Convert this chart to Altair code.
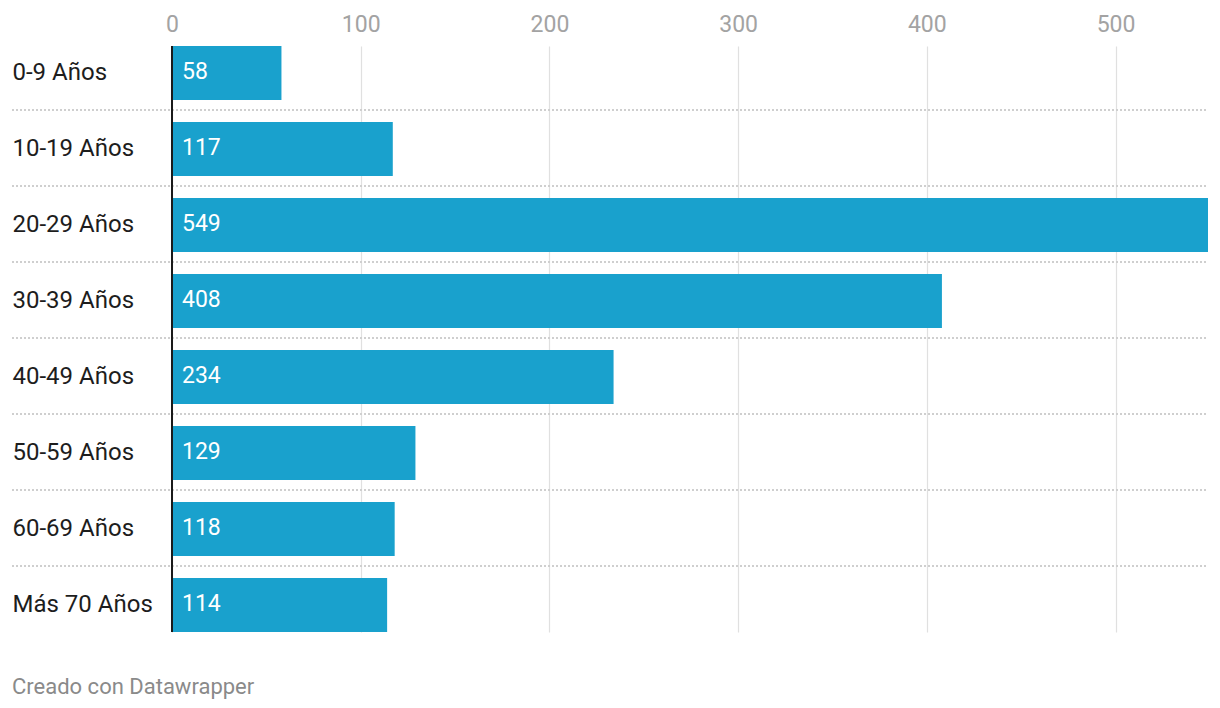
import altair as alt
import pandas as pd

categories = ["0-9 Años", "10-19 Años", "20-29 Años", "30-39 Años",
              "40-49 Años", "50-59 Años", "60-69 Años", "Más 70 Años"]
values = [58, 117, 549, 408, 234, 129, 118, 114]
x_ticks = [0, 100, 200, 300, 400, 500]
x_max = 549
footer = "Creado con Datawrapper"

df = pd.DataFrame({"grupo": categories, "valor": values})
sep_df = pd.DataFrame({"grupo": categories[:-1]})

W, H = 1036, 586
FONT = "Roboto"

y_scale = alt.Scale(domain=categories, paddingInner=0.29, paddingOuter=0)
x_scale = alt.Scale(domain=[0, x_max], nice=False, zero=True)

y_axis = alt.Axis(title=None, orient="left", ticks=False, tickSize=0, domain=False,
                  labelAlign="left", labelPadding=160, labelFontSize=24,
                  labelColor="#1d1d1d", labelFont=FONT, labelBaseline="middle",
                  grid=False)
x_axis = alt.Axis(orient="top", values=x_ticks, title=None, ticks=False, tickSize=0,
                  domain=False, labelColor="#a3a3a3", labelFontSize=23, labelFont=FONT,
                  labelPadding=15, labelBaseline="alphabetic", labelFlush=False,
                  grid=True, gridColor="#e0e0e0", gridWidth=1.2)

bars = alt.Chart(df).mark_bar(color="#19a1cd").encode(
    x=alt.X("valor:Q", scale=x_scale, axis=x_axis),
    y=alt.Y("grupo:N", scale=y_scale, sort=categories, axis=y_axis),
)

seps = alt.Chart(sep_df).mark_rule(color="#cfcfcf", strokeWidth=2, strokeDash=[2, 2]).encode(
    y=alt.Y("grupo:N", scale=y_scale, sort=categories, axis=y_axis),
    yOffset=alt.value(64),
    x=alt.value(-160),
    x2=alt.value(W),
)

zero = alt.Chart(df).mark_rule(color="#1a1a1a", strokeWidth=2).encode(
    x=alt.X(datum=0, scale=x_scale, axis=x_axis),
    y=alt.value(0),
    y2=alt.value(H),
)

labels = alt.Chart(df).mark_text(align="left", baseline="middle", dx=10, dy=-1,
                                 color="white", fontSize=23, font=FONT).encode(
    x=alt.X(datum=0, scale=x_scale, axis=x_axis),
    y=alt.Y("grupo:N", scale=y_scale, sort=categories, axis=y_axis),
    text="valor:Q",
)

chart = alt.layer(seps, bars, zero, labels).properties(
    width=W, height=H,
    autosize="none",
    background="white",
    padding={"left": 172, "top": 46, "right": 12, "bottom": 76},
    title=alt.TitleParams(footer, orient="bottom", anchor="start", frame="group",
                          dx=-160, offset=61, fontSize=22, font=FONT,
                          fontWeight="normal", color="#8a8a8a", baseline="alphabetic"),
).configure_view(stroke=None)

chart.save("out.html", embed_options={"renderer": "svg", "actions": False})
